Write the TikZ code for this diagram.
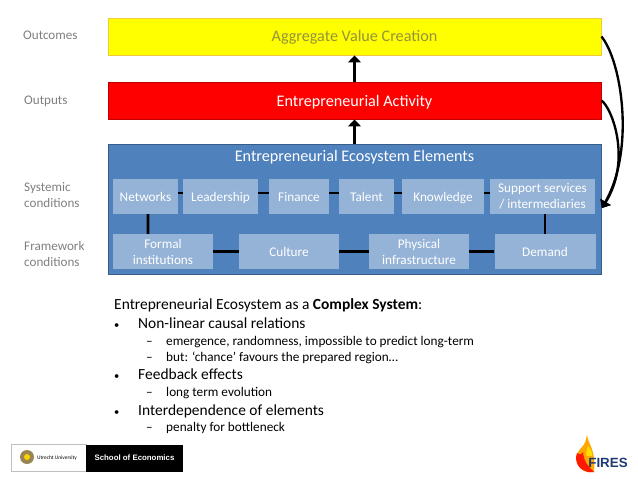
\documentclass[tikz,border=0pt]{standalone}
\usepackage{fontspec}
\setmainfont{Carlito}
\newfontfamily\logofont{Liberation Sans}
\usetikzlibrary{arrows.meta}
\definecolor{valueyellow}{HTML}{FFFF00}
\definecolor{valueedge}{HTML}{F2C83C}
\definecolor{valuetext}{HTML}{94943A}
\definecolor{activityred}{HTML}{FF0000}
\definecolor{activityedge}{HTML}{C00000}
\definecolor{elemblue}{HTML}{4F81BD}
\definecolor{elemedge}{HTML}{385D8A}
\definecolor{cellblue}{HTML}{95B3D7}
\definecolor{sidegrey}{HTML}{7F7F7F}
\definecolor{firesnavy}{HTML}{1F3A73}
\tikzset{
  layerbox/.style={draw=#1, line width=0.8pt, minimum width=14.79cm, minimum height=1.11cm, inner sep=0pt},
  layertext/.style={font=\fontsize{13.8}{16}\selectfont, text height=2ex, text depth=0.3ex},
  cell/.style={fill=cellblue, text=white, font=\fontsize{11.3}{13.6}\selectfont, align=center, minimum height=1.05cm, inner sep=0pt},
  oneline/.style={text height=2.1ex, text depth=0.3ex},
  link/.style={line width=2.2pt, draw=black},
  uparrow/.style={line width=2.2pt, draw=black, -{Triangle[width=11pt,length=6pt]}},
  loopback/.style={line width=2pt, draw=black, -{Triangle[width=10pt,length=6pt]}},
  sidelabel/.style={text=sidegrey, font=\fontsize{11.2}{13.6}\selectfont, align=left, anchor=west, inner sep=0pt},
  listhead/.style={anchor=base west, inner sep=0pt, font=\fontsize{13.2}{16}\selectfont},
  listsub/.style={anchor=base west, inner sep=0pt, font=\fontsize{11.3}{14}\selectfont},
  listmark/.style={anchor=base west, inner sep=0pt, font=\fontsize{9}{11}\selectfont},
}

\begin{document}
\begin{tikzpicture}[x=0.03cm, y=-0.03cm]
\useasboundingbox (0,0) rectangle (638,479);
% layers
\node[layerbox=valueedge, fill=valueyellow, text=valuetext, layertext] (value) at (354.5,36.5) {Aggregate Value Creation};
\node[layerbox=activityedge, fill=activityred, text=white, layertext, text height=2.6ex] (activity) at (354.5,100.5) {Entrepreneurial Activity};
\node[draw=elemedge, line width=0.8pt, fill=elemblue, minimum width=14.79cm, minimum height=3.9cm, inner sep=0pt] (elements) at (354.5,209) {};
\node[text=white, layertext] (elementstitle) at (354.5,157) {Entrepreneurial Ecosystem Elements};
% systemic row
\node[cell, oneline, minimum width=1.95cm] (networks) at (145.5,196.5) {Networks};
\node[cell, oneline, minimum width=2.25cm] (leadership) at (220.5,196.5) {Leadership};
\node[cell, oneline, minimum width=1.8cm] (finance) at (299,196.5) {Finance};
\node[cell, oneline, minimum width=1.65cm] (talent) at (366.5,196.5) {Talent};
\node[cell, oneline, minimum width=2.46cm] (knowledge) at (443,196.5) {Knowledge};
\node[cell, minimum width=3.15cm] (support) at (542.5,196.5) {Support services\\/ intermediaries};
% framework row
\node[cell, minimum width=3cm] (formal) at (163,251.5) {Formal\\institutions};
\node[cell, oneline, minimum width=3cm] (culture) at (289,251.5) {Culture};
\node[cell, minimum width=3cm] (physical) at (419,251.5) {Physical\\infrastructure};
\node[cell, oneline, minimum width=3.03cm] (demand) at (545,251.5) {Demand};
% links
\draw[link] ([yshift=0.1cm]networks.east) -- ([yshift=0.1cm]leadership.west);
\draw[link] ([yshift=0.1cm]leadership.east) -- ([yshift=0.1cm]finance.west);
\draw[link] ([yshift=0.1cm]finance.east) -- ([yshift=0.1cm]talent.west);
\draw[link] ([yshift=0.1cm]talent.east) -- ([yshift=0.1cm]knowledge.west);
\draw[link] ([yshift=0.1cm]knowledge.east) -- ([yshift=0.1cm]support.west);
\draw[link] (formal) -- (culture);
\draw[link] (culture) -- (physical);
\draw[link] (physical) -- (demand);
\draw[link] ([xshift=0.075cm]networks.south) -- ([xshift=-0.45cm]formal.north);
\draw[link] (demand.north) -- ([xshift=0.075cm]support.south);
% arrows
\draw[uparrow] (elements.north) -- (activity.south);
\draw[uparrow] (activity.north) -- (value.south);
\draw[loopback] (value.east) .. controls (622,62) and (635,150) .. (602,208);
\draw[loopback] (activity.east) .. controls (612,108) and (632,160) .. (602,208);
% side labels
\node[sidelabel] (outcomes) at (23,35.5) {Outcomes};
\node[sidelabel] (outputs) at (24,101.5) {Outputs};
\node[sidelabel] (systemic) at (24,195.5) {Systemic\\conditions};
\node[sidelabel] (framework) at (24,254) {Framework\\conditions};
% list
\node[listhead] (listtitle) at (114,309) {Entrepreneurial Ecosystem as a \textbf{Complex System}:};
\node[listmark] (bulleta) at (114,328) {•};
\node[listhead] (itema) at (138,328) {Non-linear causal relations};
\node[listsub] (dasha) at (146,345) {–};
\node[listsub] (subaa) at (166,345) {emergence, randomness, impossible to predict long-term};
\node[listsub] (dashb) at (146,361) {–};
\node[listsub] (subab) at (166,361) {but: ‘chance’ favours the prepared region…};
\node[listmark] (bulletb) at (114,379) {•};
\node[listhead] (itemb) at (138,379) {Feedback effects};
\node[listsub] (dashc) at (146,396) {–};
\node[listsub] (subba) at (166,396) {long term evolution};
\node[listmark] (bulletc) at (114,415) {•};
\node[listhead] (itemc) at (138,415) {Interdependence of elements};
\node[listsub] (dashd) at (146,431) {–};
\node[listsub] (subca) at (166,431) {penalty for bottleneck};
% university logo
\node[draw=black!25, line width=0.4pt, fill=white, minimum width=2.25cm, minimum height=0.81cm, inner sep=0pt] (unibox) at (48.5,458) {};
\node[fill=black, text=white, minimum width=2.91cm, minimum height=0.81cm, inner sep=0pt, font=\logofont\bfseries\fontsize{6.7}{7}\selectfont] (schoolbox) at (134.5,458) {School of Economics};
\fill[black!60!yellow!60!brown] (27,457) circle (7);
\fill[yellow!70!orange] (27,457) circle (3);
\node[font=\fontsize{4.6}{5}\selectfont, inner sep=0pt] (uniname) at (57,458) {Utrecht University};
% fires logo
\fill[orange!70!yellow] (587,435) .. controls (589,446) and (596,450) .. (594,472) -- (588,472) .. controls (576,470) and (572,456) .. (582,447) .. controls (585,444) and (586,440) .. (587,435) -- cycle;
\fill[red!80!orange] (577,453) .. controls (574,462) and (579,470) .. (588,472) -- (594,472) .. controls (588,466) and (584,462) .. (583,452) .. controls (581,455) and (579,455) .. (577,453) -- cycle;
\fill[yellow!80!orange] (588,446) .. controls (591,451) and (593,452) .. (592,456) -- (587,456) .. controls (585,454) and (587,451) .. (588,446) -- cycle;
\node[text=firesnavy, font=\logofont\bfseries\fontsize{11.4}{12}\selectfont, inner sep=0pt] (fireslabel) at (608,462.5) {FIRES};
\end{tikzpicture}
\end{document}
